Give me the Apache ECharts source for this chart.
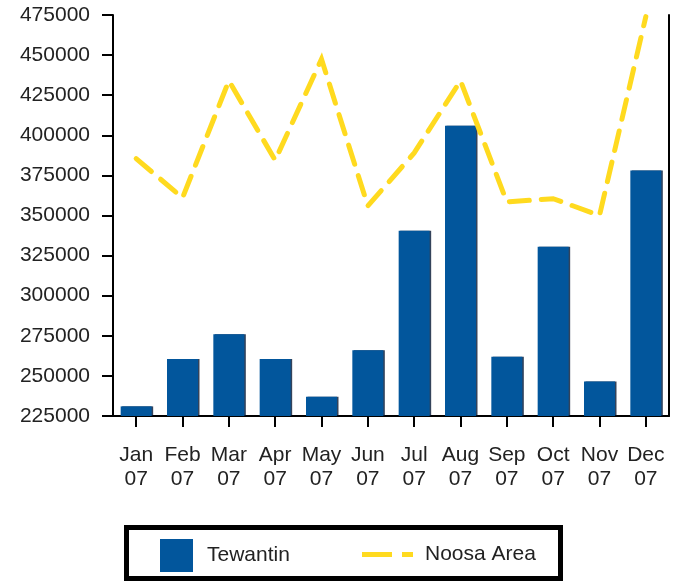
<!DOCTYPE html>
<html>
<head>
<meta charset="utf-8">
<script src="https://cdn.jsdelivr.net/npm/echarts@6/dist/echarts.min.js"></script>
<style>
html,body{margin:0;padding:0;background:#fff;}
#chart{width:679px;height:582px;}
</style>
</head>
<body>
<div id="chart"></div>
<script>
const categories = ['Jan\n07','Feb\n07','Mar\n07','Apr\n07','May\n07','Jun\n07','Jul\n07','Aug\n07','Sep\n07','Oct\n07','Nov\n07','Dec\n07'];
const tewantin = [231000, 260500, 276000, 260500, 237000, 266000, 340500, 406000, 262000, 330500, 246500, 378000];
const noosaArea = [385500, 361000, 434000, 384500, 447500, 356000, 389000, 434000, 358500, 360500, 350000, 474000];
const yMin = 225000;
const yMax = 475000;
const yInterval = 25000;

const FONT = '"Liberation Sans", Arial, sans-serif';
const chart = echarts.init(document.getElementById('chart'), null, {renderer: 'canvas'});
chart.setOption({
  animation: false,
  backgroundColor: '#ffffff',
  grid: {left: 113, right: 10, top: 15, bottom: 166, containLabel: false},
  xAxis: {
    type: 'category',
    data: categories,
    boundaryGap: true,
    axisLine: {show: true, lineStyle: {color: '#000', width: 2}},
    axisTick: {show: true, alignWithLabel: true, length: 11, lineStyle: {color: '#000', width: 2}},
    axisLabel: {fontFamily: FONT, fontSize: 21, color: '#222', lineHeight: 24, margin: 27, interval: 0},
    splitLine: {show: false}
  },
  yAxis: [{
    type: 'value',
    min: yMin, max: yMax, interval: yInterval,
    axisLine: {show: true, lineStyle: {color: '#000', width: 2}},
    axisTick: {show: true, length: 11, lineStyle: {color: '#000', width: 2}},
    axisLabel: {fontFamily: FONT, fontSize: 21, color: '#222', margin: 23, formatter: v => String(v)},
    splitLine: {show: false}
  }, {
    type: 'value', position: 'right',
    min: yMin, max: yMax, interval: yInterval,
    axisLine: {show: true, lineStyle: {color: '#000', width: 2}},
    axisTick: {show: false}, axisLabel: {show: false}, splitLine: {show: false}
  }],
  legend: [{
    data: ['Tewantin'],
    left: 160, top: 539, padding: 0,
    itemWidth: 33, itemHeight: 33, itemGap: 0,
    icon: 'rect',
    textStyle: {fontFamily: FONT, fontSize: 21, color: '#222', padding: [0,0,0,9]},
    selectedMode: false
  }, {
    data: [{name: 'Noosa Area', icon: 'path://M0,0H30V5H0Z M40,0H51V5H40Z', itemStyle: {color: '#FFDA1F'}}],
    left: 362, top: 544, padding: 0,
    itemWidth: 51, itemHeight: 5, itemGap: 0,
    textStyle: {fontFamily: FONT, fontSize: 21, color: '#222', padding: [0,0,0,7]},
    selectedMode: false
  }],
  graphic: [{
    type: 'rect',
    shape: {x: 126.5, y: 527.5, width: 434, height: 51},
    style: {fill: 'none', stroke: '#000', lineWidth: 5},
    silent: true
  }],
  series: [{
    name: 'Tewantin',
    type: 'bar',
    data: tewantin,
    barWidth: 31,
    itemStyle: {color: '#02569C', shadowColor: 'rgba(0,20,50,0.8)', shadowOffsetX: 1.5, shadowOffsetY: 0, shadowBlur: 0}
  }, {
    name: 'Noosa Area',
    type: 'line',
    data: noosaArea,
    symbol: 'none',
    clip: true,
    itemStyle: {color: '#FFDA1F'},
    lineStyle: {color: '#FFDA1F', width: 5, type: [20, 12], cap: 'round', join: 'miter'},
    z: 3
  }]
});
</script>
</body>
</html>
